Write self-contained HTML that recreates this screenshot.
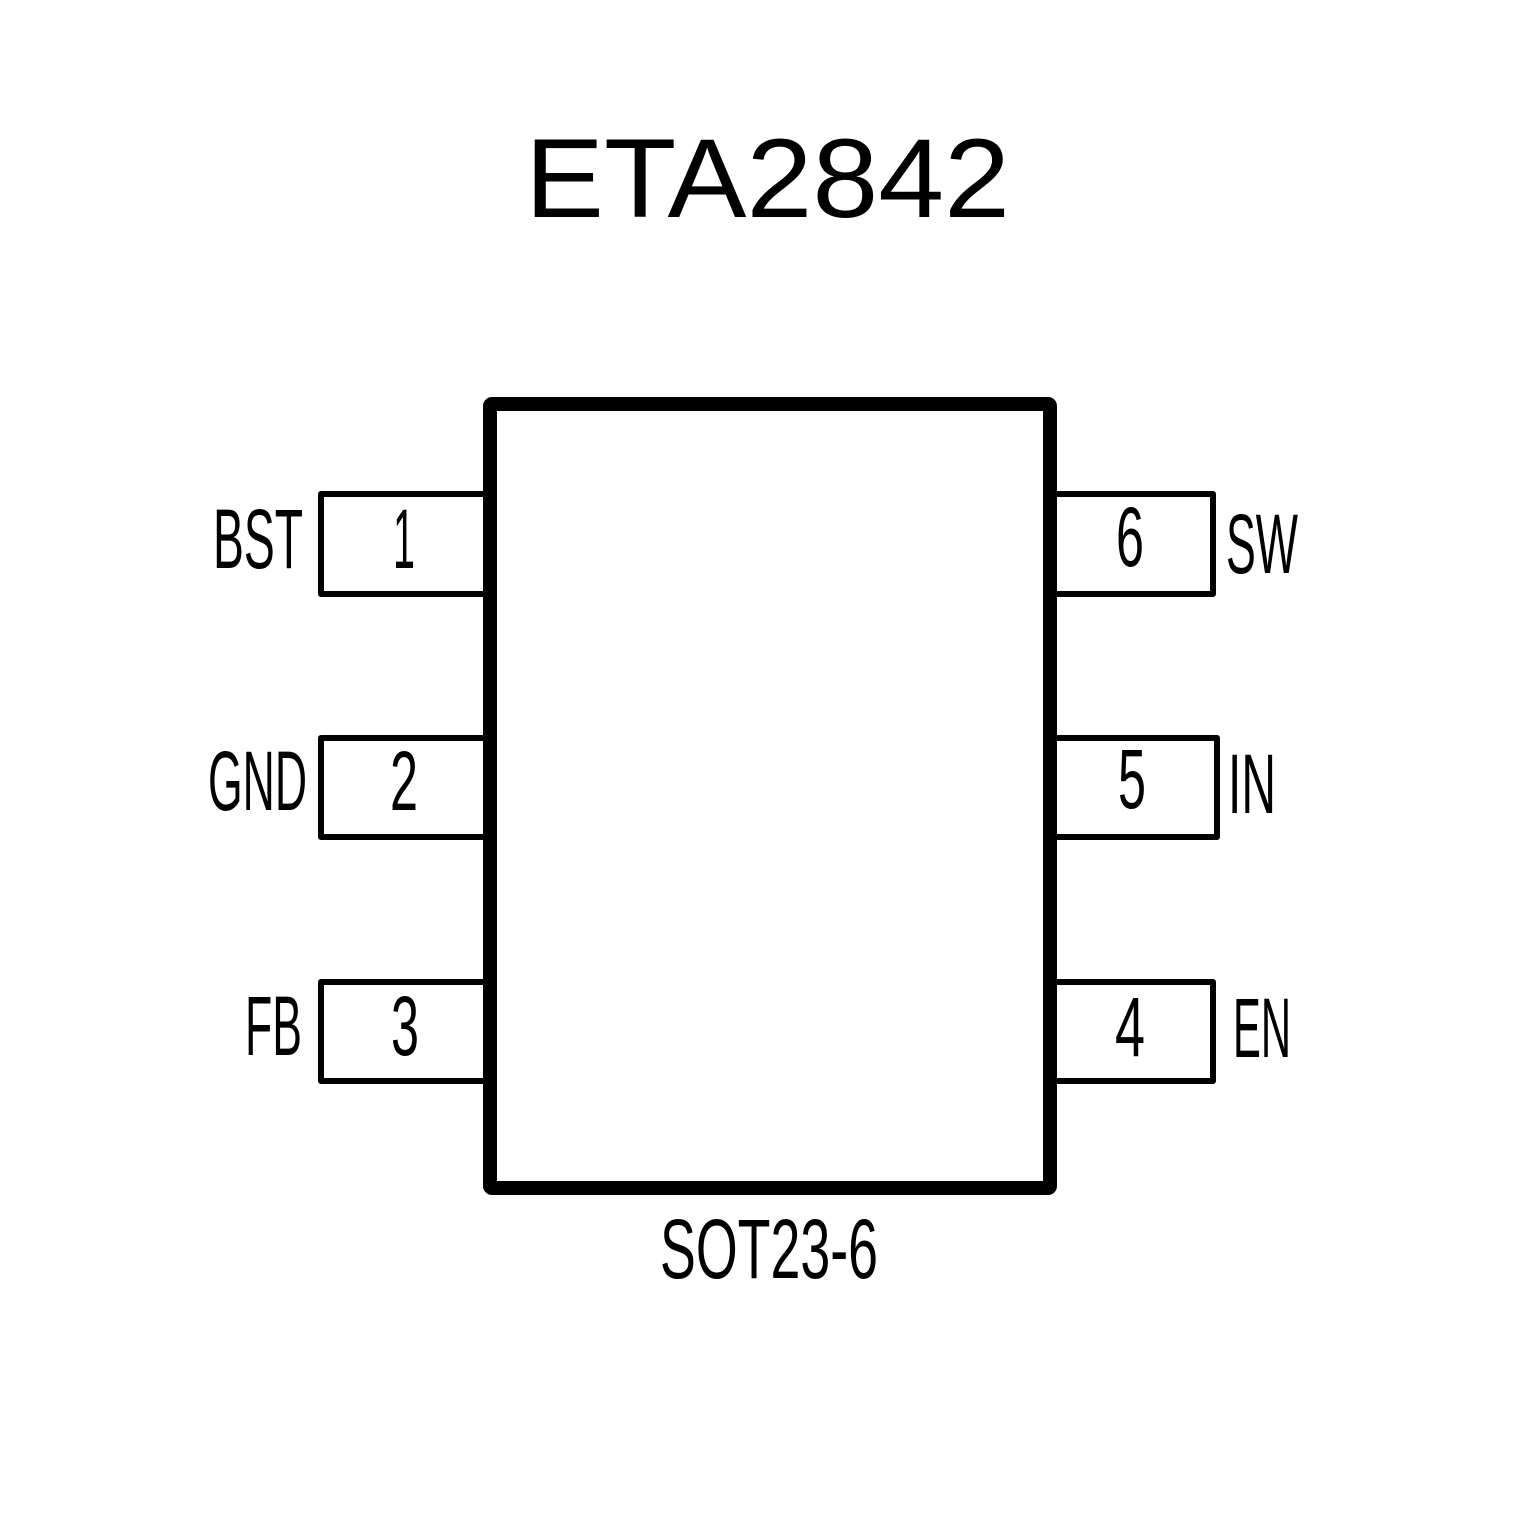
<!DOCTYPE html>
<html><head><meta charset="utf-8"><style>html,body{margin:0;padding:0;background:#fff}svg{display:block}</style></head>
<body>
<svg width="1535" height="1535" viewBox="0 0 1535 1535" xmlns="http://www.w3.org/2000/svg">
<rect width="1535" height="1535" fill="#fff"/>
<text x="525" y="217" font-family="Liberation Sans, sans-serif" font-size="112" textLength="485" lengthAdjust="spacingAndGlyphs" fill="#000">ETA2842</text>
<g fill="none" stroke="#000" stroke-linejoin="round">
<rect x="490" y="404" width="560" height="784" stroke-width="14" rx="2"/>
<g stroke-width="6">
<path d="M483 494 H321 V594 H483"/>
<path d="M483 738 H321 V837 H483"/>
<path d="M483 982 H321 V1081 H483"/>
<path d="M1057 494 H1213 V594 H1057"/>
<path d="M1057 738 H1217 V837 H1057"/>
<path d="M1057 982 H1213 V1081 H1057"/>
</g>
</g>
<g font-family="Liberation Sans, sans-serif" font-size="84" fill="#000">
<text x="213" y="568" textLength="90" lengthAdjust="spacingAndGlyphs">BST</text>
<text x="208" y="810" textLength="99" lengthAdjust="spacingAndGlyphs">GND</text>
<text x="245" y="1055" textLength="57" lengthAdjust="spacingAndGlyphs">FB</text>
<text x="1226" y="573" textLength="72" lengthAdjust="spacingAndGlyphs">SW</text>
<text x="1228" y="813" textLength="48" lengthAdjust="spacingAndGlyphs">IN</text>
<text x="1233" y="1057" textLength="58" lengthAdjust="spacingAndGlyphs">EN</text>
<text x="393" y="568" textLength="22" lengthAdjust="spacingAndGlyphs">1</text>
<text x="390" y="810" textLength="28" lengthAdjust="spacingAndGlyphs">2</text>
<text x="391" y="1055" textLength="28" lengthAdjust="spacingAndGlyphs">3</text>
<text x="1116" y="566" textLength="28" lengthAdjust="spacingAndGlyphs">6</text>
<text x="1118" y="808" textLength="28" lengthAdjust="spacingAndGlyphs">5</text>
<text x="1115" y="1056" textLength="30" lengthAdjust="spacingAndGlyphs">4</text>
<text x="660" y="1278" textLength="218" lengthAdjust="spacingAndGlyphs">SOT23-6</text>
</g>
</svg>
</body></html>
